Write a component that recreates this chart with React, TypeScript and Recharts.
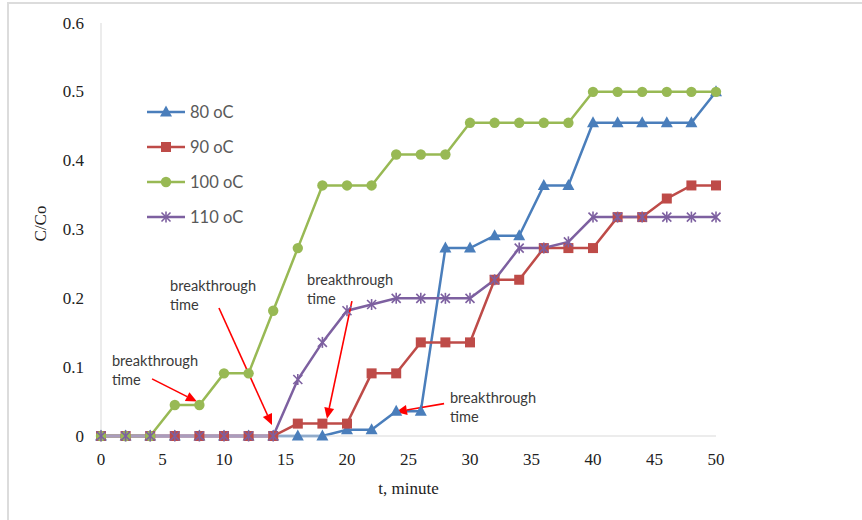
import React from 'react';
import { LineChart, Line, XAxis, YAxis, ReferenceLine, ReferenceDot } from 'recharts';

const times = [0, 2, 4, 6, 8, 10, 12, 14, 16, 18, 20, 22, 24, 26, 28, 30, 32, 34, 36, 38, 40, 42, 44, 46, 48, 50];
const c80 = [0, 0, 0, 0, 0, 0, 0, 0, 0, 0, 0.009, 0.009, 0.036, 0.036, 0.273, 0.273, 0.291, 0.291, 0.364, 0.364, 0.455, 0.455, 0.455, 0.455, 0.455, 0.5];
const c90 = [0, 0, 0, 0, 0, 0, 0, 0, 0.018, 0.018, 0.018, 0.091, 0.091, 0.136, 0.136, 0.136, 0.227, 0.227, 0.273, 0.273, 0.273, 0.318, 0.318, 0.345, 0.364, 0.364];
const c100 = [0, 0, 0, 0.045, 0.045, 0.091, 0.091, 0.182, 0.273, 0.364, 0.364, 0.364, 0.409, 0.409, 0.409, 0.455, 0.455, 0.455, 0.455, 0.455, 0.5, 0.5, 0.5, 0.5, 0.5, 0.5];
const c110 = [0, 0, 0, 0, 0, 0, 0, 0, 0.082, 0.136, 0.182, 0.191, 0.2, 0.2, 0.2, 0.2, 0.227, 0.273, 0.273, 0.282, 0.318, 0.318, 0.318, 0.318, 0.318, 0.318];

const xTicks = [0, 5, 10, 15, 20, 25, 30, 35, 40, 45, 50];
const yTicks = [0, 0.1, 0.2, 0.3, 0.4, 0.5, 0.6];

const seriesNames = ['80 oC', '90 oC', '100 oC', '110 oC'];
const seriesKeys = ['c80', 'c90', 'c100', 'c110'];
const seriesColors = ['#4A7EBB', '#BE4B48', '#98B954', '#7D60A0'];
const seriesMarkers = ['triangle', 'square', 'circle', 'star'];

// annotation text anchors (data coords) and arrows (data coords: from -> to)
const noteText = ['breakthrough', 'time'];
const noteX = [0.89, 5.61, 16.75, 28.37];
const noteY = [0.11, 0.219, 0.228, 0.057];
const arrowFrom = [
  { x: 4.15, y: 0.083 },
  { x: 9.59, y: 0.186 },
  { x: 20.4, y: 0.196 },
  { x: 27.89, y: 0.047 },
];
const arrowTo = [
  { x: 7.8, y: 0.05 },
  { x: 13.9, y: 0.016 },
  { x: 18.37, y: 0.025 },
  { x: 23.98, y: 0.035 },
];

const data = times.map((t, i) => ({ t, c80: c80[i], c90: c90[i], c100: c100[i], c110: c110[i] }));

const SANS = 'Lato, "Open Sans", sans-serif';
const SERIF = '"Liberation Serif", "Times New Roman", serif';

function Marker({ type, cx, cy, color }: { type: string; cx: number; cy: number; color: string }) {
  if (type === 'triangle') {
    return <polygon points={`${cx},${cy - 6.5} ${cx + 6},${cy + 4.5} ${cx - 6},${cy + 4.5}`} fill={color} />;
  }
  if (type === 'square') {
    return <rect x={cx - 5} y={cy - 5} width={10} height={10} fill={color} />;
  }
  if (type === 'circle') {
    return <circle cx={cx} cy={cy} r={5.2} fill={color} />;
  }
  return (
    <g stroke={color} strokeWidth={1.6}>
      <line x1={cx - 4.5} y1={cy - 4.5} x2={cx + 4.5} y2={cy + 4.5} />
      <line x1={cx - 4.5} y1={cy + 4.5} x2={cx + 4.5} y2={cy - 4.5} />
      <line x1={cx} y1={cy - 5.5} x2={cx} y2={cy + 5.5} />
    </g>
  );
}

const makeDot = (type: string, color: string) => (props: any) => {
  const { cx, cy, index } = props;
  if (cx == null || cy == null) return <g key={`e-${index}`} />;
  return (
    <g key={`d-${type}-${index}`}>
      <Marker type={type} cx={cx} cy={cy} color={color} />
    </g>
  );
};

const Arrow = (props: any) => {
  const { x1, y1, x2, y2 } = props;
  const dx = x2 - x1;
  const dy = y2 - y1;
  const len = Math.sqrt(dx * dx + dy * dy) || 1;
  const ux = dx / len;
  const uy = dy / len;
  const hl = 11;
  const hw = 5;
  const bx = x2 - ux * hl;
  const by = y2 - uy * hl;
  return (
    <g>
      <line x1={x1} y1={y1} x2={bx} y2={by} stroke="#FF0000" strokeWidth={1.6} />
      <polygon
        points={`${x2},${y2} ${bx - uy * hw},${by + ux * hw} ${bx + uy * hw},${by - ux * hw}`}
        fill="#FF0000"
      />
    </g>
  );
};

const NoteLabel = (props: any) => {
  const { cx, cy } = props;
  return (
    <text x={cx} y={cy} fontFamily={SANS} fontSize={14.6} fill="#3a3a3a" dominantBaseline="central">
      <tspan x={cx}>{noteText[0]}</tspan>
      <tspan x={cx} dy={19}>{noteText[1]}</tspan>
    </text>
  );
};

const XTick = (props: any) => {
  const { x, y, payload } = props;
  return (
    <text x={x} y={y + 15} textAnchor="middle" dominantBaseline="central" fontFamily={SERIF} fontSize={17} fill="#222">
      {payload.value}
    </text>
  );
};

const YTick = (props: any) => {
  const { y, payload } = props;
  const v = payload.value as number;
  const s = v === 0 ? '0' : String(Math.round(v * 10) / 10);
  return (
    <text x={84} y={y} textAnchor="end" dominantBaseline="central" fontFamily={SERIF} fontSize={17} fill="#222">
      {s}
    </text>
  );
};

const XLabel = (props: any) => {
  const vb = props.viewBox || {};
  const x = (vb.x ?? 101) + (vb.width ?? 615) / 2;
  return (
    <text x={x} y={488} textAnchor="middle" dominantBaseline="central" fontFamily={SERIF} fontSize={17} fill="#222">
      t, minute
    </text>
  );
};

const YLabel = (props: any) => {
  const vb = props.viewBox || {};
  const x = 40;
  const y = (vb.y ?? 23) + (vb.height ?? 413) / 2 - 6;
  return (
    <text
      x={x}
      y={y}
      transform={`rotate(-90, ${x}, ${y})`}
      textAnchor="middle"
      dominantBaseline="central"
      fontFamily={SERIF}
      fontSize={17}
      fill="#222"
    >
      C/Co
    </text>
  );
};

const LegendBox = () => (
  <div style={{ position: 'absolute', left: 147, top: 94, width: 130 }}>
    {seriesNames.map((name, i) => (
      <div key={name} style={{ height: 35, display: 'flex', alignItems: 'center' }}>
        <svg width={40} height={20} style={{ display: 'block' }}>
          <line x1={0} y1={10} x2={38} y2={10} stroke={seriesColors[i]} strokeWidth={2.5} />
          <Marker type={seriesMarkers[i]} cx={19} cy={10} color={seriesColors[i]} />
        </svg>
        <span style={{ fontFamily: SANS, fontSize: 16.5, color: '#595959', marginLeft: 3 }}>{name}</span>
      </div>
    ))}
  </div>
);

export default function App() {
  return (
    <div style={{ position: 'absolute', left: 0, top: 0, width: 862, height: 520, background: '#fff' }}>
      <div
        style={{
          position: 'absolute',
          left: 7,
          top: 2,
          width: 855,
          height: 518,
          borderTop: '2px solid #dcdcdc',
          borderLeft: '2px solid #dcdcdc',
          boxSizing: 'border-box',
        }}
      />
      <div style={{ position: 'absolute', left: 0, top: 0 }}>
        <LineChart width={862} height={520} data={data} margin={{ top: 23, right: 146, bottom: 24, left: 41 }}>
          <XAxis
            dataKey="t"
            type="number"
            domain={[0, 50]}
            ticks={xTicks}
            height={60}
            axisLine={{ stroke: '#d9d9d9', strokeWidth: 1 }}
            tickLine={false}
            tick={XTick}
            label={{ content: XLabel }}
          />
          <YAxis
            type="number"
            domain={[0, 0.6]}
            ticks={yTicks}
            width={60}
            axisLine={{ stroke: '#d9d9d9', strokeWidth: 1 }}
            tickLine={false}
            tick={YTick}
            label={{ content: YLabel }}
          />
          {seriesKeys.map((k, i) => (
            <Line
              key={k}
              dataKey={k}
              name={seriesNames[i]}
              stroke={seriesColors[i]}
              strokeWidth={2.5}
              dot={makeDot(seriesMarkers[i], seriesColors[i])}
              activeDot={false}
              isAnimationActive={false}
            />
          ))}
          {arrowFrom.map((f, i) => (
            <ReferenceLine key={`a-${i}`} segment={[f, arrowTo[i]]} shape={Arrow} ifOverflow="visible" />
          ))}
          {noteX.map((x, i) => (
            <ReferenceDot key={`n-${i}`} x={x} y={noteY[i]} shape={NoteLabel} ifOverflow="visible" />
          ))}
        </LineChart>
      </div>
      <LegendBox />
    </div>
  );
}
